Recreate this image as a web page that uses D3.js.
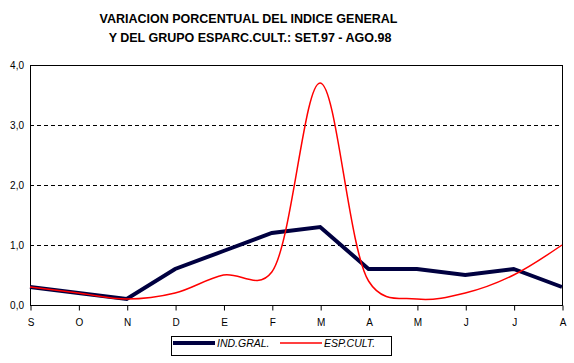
<!DOCTYPE html>
<html>
<head>
<meta charset="utf-8">
<script src="https://cdn.jsdelivr.net/npm/d3@7"></script>
<style>
	body { margin: 0; background: #fff; }
	text { font-family: Arial, 'Liberation Sans', sans-serif; }
</style>
</head>
<body>
<svg></svg>
<script>

const months = ['S', 'O', 'N', 'D', 'E', 'F', 'M', 'A', 'M', 'J', 'J', 'A']
const indGral = [0.3, 0.2, 0.1, 0.6, 0.9, 1.2, 1.3, 0.6, 0.6, 0.5, 0.6, 0.3]
const espCult = [0.3, 0.2, 0.1, 0.2, 0.5, 0.55, 3.7, 0.4, 0.1, 0.2, 0.5, 1.0]
const yTicks = [0, 1, 2, 3, 4]
const titleLines = ['VARIACION PORCENTUAL DEL INDICE GENERAL', 'Y DEL GRUPO ESPARC.CULT.: SET.97 - AGO.98']

let width = 574, height = 363
let mLeft = 30, mRight = 562, mTop = 65, mBottom = 305

let svg = d3.select('svg')
	.attr('width', width)
	.attr('height', height)

let scX = d3.scalePoint()
	.domain(d3.range(months.length))
	.range([mLeft, mRight])

let scY = d3.scaleLinear()
	.domain([0, 4])
	.range([mBottom, mTop])

// title
svg.selectAll('.title')
	.data(titleLines).enter().append('text')
	.attr('x', (d, i) => i ? 250 : 248.5)
	.attr('y', (d, i) => 23 + i * 19)
	.attr('text-anchor', 'middle')
	.style('font-size', '12.5px')
	.style('font-weight', 'bold')
	.text(d => d)

// grid lines (dashed)
svg.append('g')
	.selectAll('line')
	.data(yTicks.filter(d => d > 0 && d < 4)).enter().append('line')
	.attr('x1', mLeft).attr('x2', mRight)
	.attr('y1', d => scY(d) + 0.5).attr('y2', d => scY(d) + 0.5)
	.attr('stroke', '#000')
	.attr('stroke-dasharray', '4,3')

// plot frame
svg.append('rect')
	.attr('x', mLeft + 0.5).attr('y', mTop + 0.5)
	.attr('width', mRight - mLeft).attr('height', mBottom - mTop)
	.attr('fill', 'none')
	.attr('stroke', '#000')

// y axis labels
let axY = d3.axisLeft(scY)
	.tickValues(yTicks)
	.tickSize(0)
	.tickPadding(6)
	.tickFormat(d => d3.format('.1f')(d).replace('.', ','))
svg.append('g')
	.attr('transform', `translate(${mLeft}, 0)`)
	.call(axY)
	.call(g => g.select('.domain').remove())
	.call(g => g.selectAll('text').style('font-size', '10px').style('font-family', 'Arial, Liberation Sans, sans-serif'))

// x axis
let axX = d3.axisBottom(scX)
	.tickSize(5)
	.tickPadding(8)
	.tickFormat(i => months[i])
svg.append('g')
	.attr('transform', `translate(0.5, ${mBottom + 0.5})`)
	.call(axX)
	.call(g => g.select('.domain').remove())
	.call(g => g.selectAll('text').style('font-size', '10px').style('font-family', 'Arial, Liberation Sans, sans-serif'))

// series
let lineInd = d3.line()
	.x((d, i) => scX(i))
	.y(d => scY(d))

// smoothed line, like the spreadsheet's "smooth" option
let lineEsp = d3.line()
	.x((d, i) => scX(i))
	.y(d => scY(d))
	.curve(d3.curveCatmullRom.alpha(0.25))

svg.append('path')
	.datum(indGral)
	.attr('d', lineInd)
	.attr('fill', 'none')
	.attr('stroke', '#000040')
	.attr('stroke-width', 4)

svg.append('path')
	.datum(espCult)
	.attr('d', lineEsp)
	.attr('fill', 'none')
	.attr('stroke', '#ff0000')
	.attr('stroke-width', 1.5)

// legend
let legend = svg.append('g')
legend.append('rect')
	.attr('x', 171.5).attr('y', 336.5)
	.attr('width', 220).attr('height', 19)
	.attr('fill', '#fff')
	.attr('stroke', '#000')

let legItems = [
	{ name: 'IND.GRAL.', color: '#000040', w: 4, x: 173 },
	{ name: 'ESP.CULT.', color: '#ff0000', w: 1.5, x: 280 }
]
legend.selectAll('line')
	.data(legItems).enter().append('line')
	.attr('x1', d => d.x).attr('x2', d => d.x + 42)
	.attr('y1', 343).attr('y2', 343)
	.attr('stroke', d => d.color)
	.attr('stroke-width', d => d.w)

legend.selectAll('text')
	.data(legItems).enter().append('text')
	.attr('x', d => d.x + 44)
	.attr('y', 347)
	.style('font-size', '10.5px')
	.style('font-style', 'italic')
	.text(d => d.name)

</script>
</body>
</html>
